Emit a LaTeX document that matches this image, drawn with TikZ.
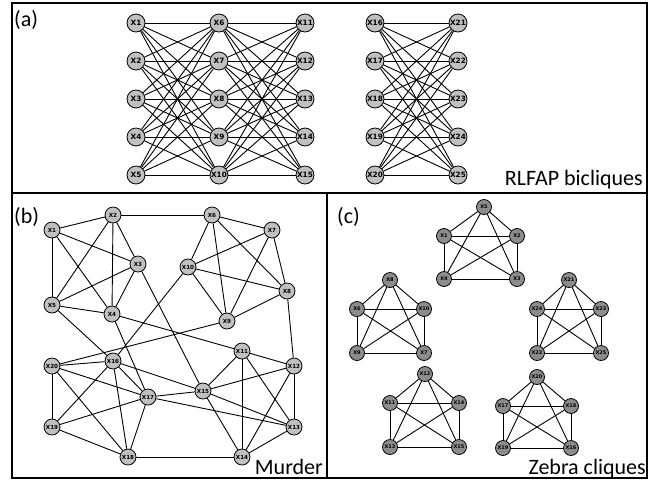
\documentclass[tikz,border=0pt]{standalone}
\usepackage{fontspec}
\setmainfont{Carlito}
\newfontfamily\nodefont{DejaVu Sans}
\definecolor{lightnode}{HTML}{C0C0C0}
\definecolor{darknode}{HTML}{8C8C8C}
\tikzset{
  base/.style={circle, draw=black, line width=0.8pt, inner sep=0pt, text=black},
  na/.style={base, fill=lightnode, minimum size=18pt, font=\nodefont\bfseries\fontsize{7.3}{7.3}\selectfont},
  nb/.style={base, fill=lightnode, minimum size=16pt, font=\nodefont\bfseries\fontsize{5.6}{5.6}\selectfont},
  nc/.style={base, fill=darknode, minimum size=15pt, font=\nodefont\bfseries\fontsize{5}{5}\selectfont},
  edge/.style={line width=0.9pt, black},
  frame/.style={line width=1.2pt, black},
  panellabel/.style={font=\fontsize{22}{22}\selectfont, inner sep=0pt},
}
\begin{document}
\begin{tikzpicture}[x=1pt,y=-1pt]
\useasboundingbox (0,0) rectangle (660,483);
% frame
\draw[frame] (12,3) rectangle (647,478);
\draw[frame] (12,193) -- (647,193);
\draw[frame] (327,193) -- (327,478);
% labels
\node[panellabel, anchor=base west] (la) at (14,26) {(a)};
\node[panellabel, anchor=base west] (lb) at (14,223) {(b)};
\node[panellabel, anchor=base west] (lc) at (337,223) {(c)};
\node[panellabel, anchor=base east] (ta) at (643,185) {RLFAP bicliques};
\node[panellabel, anchor=base east] (tb) at (323,474) {Murder};
\node[panellabel, anchor=base east] (tc) at (646,474) {Zebra cliques};

% ---------- panel (a) ----------
\foreach \i/\y in {1/23,2/61,3/99,4/137,5/175}{
  \pgfmathtruncatemacro{\j}{\i+5}
  \pgfmathtruncatemacro{\k}{\i+10}
  \pgfmathtruncatemacro{\l}{\i+15}
  \pgfmathtruncatemacro{\m}{\i+20}
  \node[na] (a\i) at (136,\y) {X\i};
  \node[na] (a\j) at (219,\y) {X\j};
  \node[na] (a\k) at (305,\y) {X\k};
  \node[na] (a\l) at (375,\y) {X\l};
  \node[na] (a\m) at (458,\y) {X\m};
}
\foreach \i in {1,...,5}{
  \foreach \j in {6,...,10}{
    \draw[edge] (a\i) -- (a\j);
  }
}
\foreach \i in {6,...,10}{
  \foreach \j in {11,...,15}{
    \draw[edge] (a\i) -- (a\j);
  }
}
\foreach \i in {16,...,20}{
  \foreach \j in {21,...,25}{
    \draw[edge] (a\i) -- (a\j);
  }
}

% ---------- panel (b) ----------
\foreach \n/\x/\y in {1/52/230,2/113/215,3/138/264,4/112/314,5/52/305,
  6/212/215,7/272/230,8/287/291,9/227/321,10/188/267,
  11/242/351,12/294/366,13/294/427,14/242/457,15/203/391,
  16/113/361,17/148/397,18/128/457,19/52/427,20/52/366}{
  \node[nb] (b\n) at (\x,\y) {X\n};
}
\foreach \u/\v in {1/2,1/5,1/3,1/4,2/5,2/4,2/3,2/6,3/5,3/4,3/15,5/4,5/16,
  4/17,4/11,6/7,6/10,6/9,6/8,7/10,7/9,7/8,10/8,10/9,10/16,8/9,8/12,9/20,
  20/16,20/17,20/18,20/19,16/19,16/18,16/17,16/15,17/19,17/18,17/15,17/13,
  19/18,18/14,11/12,11/15,11/14,11/13,12/15,12/13,12/14,15/13,15/14,13/14}{
  \draw[edge] (b\u) -- (b\v);
}

% ---------- panel (c) ----------
\foreach \n/\x/\y in {5/484/207,1/444/236,2/517/236,4/444/279,3/517/279,
  8/390/280,6/357/309,10/424/309,9/357/353,7/424/353,
  21/569/280,24/537/309,23/601/309,22/537/353,25/601/353,
  12/425/374,11/390/403,14/459/403,13/390/447,15/459/447,
  20/537/377,17/503/406,18/571/406,19/503/448,16/571/448}{
  \node[nc] (c\n) at (\x,\y) {X\n};
}
\foreach \a/\b/\c/\d/\e in {5/1/2/4/3, 8/6/10/9/7, 21/24/23/22/25, 12/11/14/13/15, 20/17/18/19/16}{
  \draw[edge] (c\a) -- (c\b);
  \draw[edge] (c\a) -- (c\c);
  \draw[edge] (c\a) -- (c\d);
  \draw[edge] (c\a) -- (c\e);
  \draw[edge] (c\b) -- (c\c);
  \draw[edge] (c\b) -- (c\d);
  \draw[edge] (c\b) -- (c\e);
  \draw[edge] (c\c) -- (c\d);
  \draw[edge] (c\c) -- (c\e);
  \draw[edge] (c\d) -- (c\e);
}
\end{tikzpicture}
\end{document}
